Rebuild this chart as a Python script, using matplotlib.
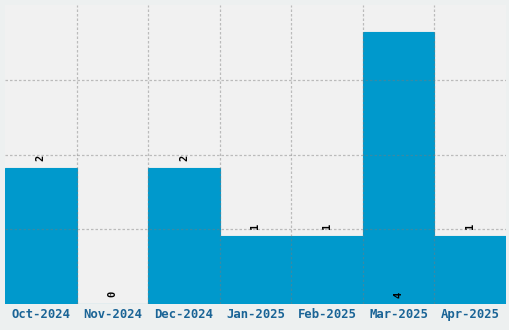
import matplotlib
matplotlib.use("Agg")
from matplotlib import pyplot as plt
import numpy as np

months = ['Oct-2024', 'Nov-2024', 'Dec-2024', 'Jan-2025', 'Feb-2025', 'Mar-2025', 'Apr-2025']
counts = [2, 0, 2, 1, 1, 4, 1]

bar_color = '#0099cc'
fig = plt.figure(figsize=(5.1, 3.3), dpi=100, facecolor='#edf0f0')
ax = fig.add_axes([5 / 510, 26 / 330, 501 / 510, 299 / 330])
ax.set_facecolor('#f1f1f1')

x = np.arange(len(months))
ax.bar(x, counts, width=1.0, color=bar_color, edgecolor=bar_color, linewidth=0.8, zorder=1)

ymax = max(counts) * 1.1
ax.set_xlim(-0.5, len(months) - 0.5)
ax.set_ylim(0, ymax)

# grid: vertical lines on bar edges, horizontal at quarters
grid_kw = dict(color='#7a7a7a', alpha=0.45, linestyle=(0, (2, 1.6)), linewidth=0.9, zorder=3)
for xe in np.arange(0.5, len(months) - 0.5, 1.0):
    ax.axvline(xe, **grid_kw)
for ye in np.linspace(0, ymax, 5)[1:-1]:
    ax.axhline(ye, **grid_kw)

# value labels
for xi, v in zip(x, counts):
    base = 0 if v == max(counts) else v
    off = 4 if v == max(counts) else 5
    ax.annotate(str(v), (xi, base), xytext=(0, off), textcoords='offset points',
                rotation=90, ha='center', va='bottom', fontsize=7.5,
                family='DejaVu Sans Mono', fontweight='bold', color='black', zorder=4)

ax.set_xticks(x)
ax.set_xticklabels(months, family='DejaVu Sans Mono', fontweight='bold', fontsize=8.8, color='#1a6496')
ax.set_yticks([])
ax.tick_params(axis='x', length=0, pad=3)
for s in ax.spines.values():
    s.set_visible(False)

fig.savefig('out.png', dpi=100, facecolor=fig.get_facecolor())
